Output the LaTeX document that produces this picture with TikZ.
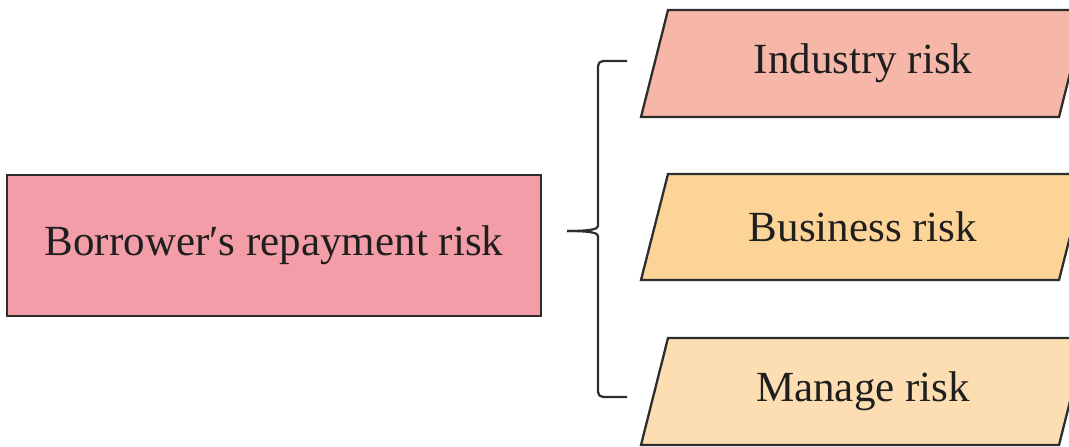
\documentclass[tikz,border=0pt]{standalone}
\usepackage{fontspec}
\setmainfont{Liberation Serif}
\definecolor{rootfill}{RGB}{242,157,168}
\definecolor{indfill}{RGB}{246,183,168}
\definecolor{busfill}{RGB}{252,212,152}
\definecolor{manfill}{RGB}{253,222,178}
\definecolor{edge}{RGB}{45,45,45}
\tikzset{
  boxline/.style={draw=edge, line width=2.3pt, line join=miter},
  label/.style={font=\fontsize{43}{50}\selectfont, text=black!88, inner sep=0pt},
  bracket/.style={draw=edge, line width=2.2pt, rounded corners=5pt},
}
\begin{document}
\begin{tikzpicture}[x=1pt, y=-1pt]
  \useasboundingbox (0,0) rectangle (1069,447);
  \clip (0,0) rectangle (1069,447);

  % root box
  \draw[boxline, fill=rootfill] (7,175) rectangle (541,316);
  \node[label] (root) at (274,245.5) {Borrower′s repayment risk};

  % the three risk categories
  \draw[boxline, fill=indfill] (641,117) -- (668,10) -- (1086,10) -- (1059,117) -- cycle;
  \node[label] (ind) at (863,63.5) {Industry risk};

  \draw[boxline, fill=busfill] (641,280) -- (668,174) -- (1086,174) -- (1059,280) -- cycle;
  \node[label] (bus) at (863,227) {Business risk};

  \draw[boxline, fill=manfill] (641,445) -- (668,338) -- (1086,338) -- (1059,445) -- cycle;
  \node[label] (man) at (863,391.5) {Manage risk};

  % brace grouping the categories
  \coordinate (btop) at (627,61);
  \coordinate (bbot) at (627,397);
  \coordinate (btip) at (567,231);
  \draw[bracket] (btop) -- (598,61) -- (598,221)
        .. controls (598,229) and (591,231) .. (btip);
  \draw[bracket] (bbot) -- (598,397) -- (598,241)
        .. controls (598,233) and (591,231) .. (btip);
\end{tikzpicture}
\end{document}
